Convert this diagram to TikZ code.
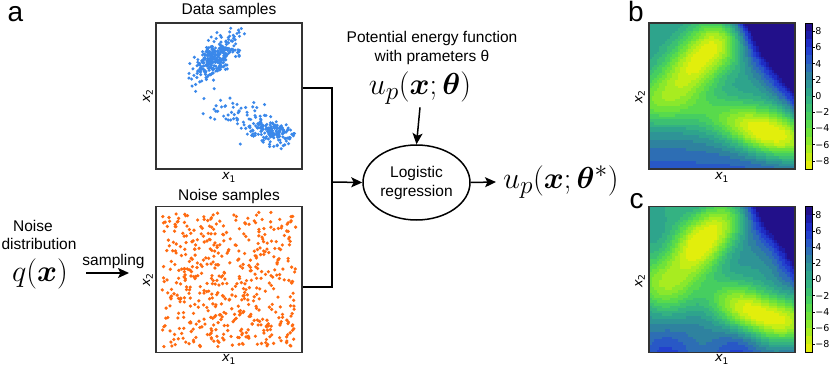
\documentclass[tikz,border=0pt]{standalone}
\usepackage{amsmath}
\usepackage{bm}
\usepackage[no-math]{fontspec}
\setmainfont{Liberation Sans}
\newfontfamily\mplfont{DejaVu Sans}
\usetikzlibrary{arrows.meta,shapes.geometric}
\definecolor{datablue}{HTML}{3A88EA}
\definecolor{noiseorange}{HTML}{FF6A10}
\definecolor{boxgray}{HTML}{333333}
% contour bands, -9 ... 9 in steps of 1
\definecolor{band0}{HTML}{E2EE0C}
\definecolor{band1}{HTML}{C6EE14}
\definecolor{band2}{HTML}{A8EC20}
\definecolor{band3}{HTML}{8AE82C}
\definecolor{band4}{HTML}{6EE23A}
\definecolor{band5}{HTML}{58DA4C}
\definecolor{band6}{HTML}{46CE60}
\definecolor{band7}{HTML}{3CC072}
\definecolor{band8}{HTML}{34B282}
\definecolor{band9}{HTML}{2EA48C}
\definecolor{band10}{HTML}{2E9496}
\definecolor{band11}{HTML}{2E829F}
\definecolor{band12}{HTML}{2D6EB4}
\definecolor{band13}{HTML}{2858C6}
\definecolor{band14}{HTML}{2240CE}
\definecolor{band15}{HTML}{1E2CC4}
\definecolor{band16}{HTML}{1C1CA8}
\definecolor{band17}{HTML}{22108A}
\newcommand{\axlab}[1]{{\mplfont\itshape x\textsubscript{\upshape #1}}}
% energy at (s,t) of the unit square; #3 = 0 for b, 1 for c
\newcommand{\calcenergy}[3]{%
  \pgfmathsetmacro\wa{(#1+#2-1.14)/0.4243}%
  \pgfmathsetmacro\wb{(#1-#2+0.40)/0.1700}%
  \pgfmathsetmacro\wone{exp(max(-15,-0.5*(\wa*\wa+\wb*\wb)))}%
  \pgfmathsetmacro\wc{(0.943*(#1-0.82)-0.33*(#2-0.23))/0.22}%
  \pgfmathsetmacro\wd{(0.33*(#1-0.82)+0.943*(#2-0.23))/0.10}%
  \pgfmathsetmacro\wtwo{exp(max(-15,-0.5*(\wc*\wc+\wd*\wd)))}%
  \pgfmathsetmacro\we{(#2-0.46+0.2*#1)/0.12}%
  \pgfmathsetmacro\wthree{exp(max(-15,-0.5*\we*\we))}%
  \pgfmathsetmacro\rim{max(0,#1+0.85*#2-1.15)}%
  \pgfmathsetmacro\uval{1+3.5*(1-#2)^3+(90-35*#3)*\rim*\rim-10*\wone-9*\wtwo-3.5*\wthree
    +#3*(1.0*sin(deg(13*#1))*cos(deg(9*#2)))}%
}
% #1 left, #2 bottom (px), #3 variant
\newcommand{\drawmap}[3]{%
  \foreach \ci in {0,...,55}{
    \foreach \cj in {0,...,55}{
      \pgfmathsetmacro\sx{(\ci+0.5)/56}
      \pgfmathsetmacro\ty{(\cj+0.5)/56}
      \calcenergy{\sx}{\ty}{#3}
      \pgfmathtruncatemacro\band{max(0,min(17,floor(\uval+9)))}
      \fill[band\band] ({#1+\ci*146/56},{#2-\cj*146/56})
        rectangle ++({146/56+0.4},{-146/56-0.4});
    }
  }}
\newcommand{\drawcbar}[2]{%
  \foreach \k in {0,...,17}
    \fill[band\k] (#1,{#2-\k*146/18}) rectangle ++(7,{-146/18-0.2});
  \draw[line width=0.8pt] (#1,#2) rectangle ++(7,-146);
  \foreach \v in {-8,-6,...,8}{
    \pgfmathtruncatemacro\av{abs(\v)}
    \draw[line width=0.6pt] ({#1+7},{#2-(\v+9)*146/18}) -- ++(2.5,0)
      node[anchor=west, xshift=0.5pt, ticklabel] {\ifnum\v<0 −\fi\av};
  }}

\begin{document}
\begin{tikzpicture}[
  x=1pt, y=-1pt,
  every node/.style={font=\fontsize{15.5}{18}\selectfont, inner sep=0pt},
  frame/.style={draw=boxgray, line width=1.3pt, minimum size=146pt},
  wire/.style={line width=1.5pt},
  arrow/.style={wire, -{Stealth[length=11pt,width=10pt,inset=2.5pt]}},
  bigmath/.style={font=\Huge, scale=1.22},
  panel/.style={font=\fontsize{28}{30}\selectfont},
  axlabel/.style={font=\fontsize{13}{15}\selectfont},
  ticklabel/.style={font=\mplfont\fontsize{9.5}{11}\selectfont}
]
  \useasboundingbox (0,0) rectangle (830,366);
  \pgfmathsetseed{4213}

  % ---- panel a: sample boxes ----
  \node (titledata) at (229,10) {Data samples};
  \node (titlenoise) at (229,196) {Noise samples};

  \foreach \n in {1,...,300}{
    \pgfmathsetmacro\ra{sqrt(-2*ln(0.002+0.996*rnd))}
    \pgfmathsetmacro\rb{360*rnd}
    \pgfmathsetmacro\za{\ra*cos(\rb)}
    \pgfmathsetmacro\zb{\ra*sin(\rb)}
    \fill[datablue] ({156+146*(0.40+0.068*\za-0.033*\zb)},{169-146*(0.76+0.072*\za+0.031*\zb)}) circle (1.7pt);
  }
  \foreach \n in {1,...,150}{
    \pgfmathsetmacro\ra{sqrt(-2*ln(0.002+0.996*rnd))}
    \pgfmathsetmacro\rb{360*rnd}
    \pgfmathsetmacro\za{\ra*cos(\rb)}
    \pgfmathsetmacro\zb{\ra*sin(\rb)}
    \fill[datablue] ({156+146*(0.79+0.07*\za)},{169-146*(0.25-0.012*\za+0.037*\zb)}) circle (1.7pt);
  }
  \foreach \n in {1,...,70}{
    \pgfmathsetmacro\ra{sqrt(-2*ln(0.002+0.996*rnd))}
    \pgfmathsetmacro\rb{360*rnd}
    \pgfmathsetmacro\za{\ra*cos(\rb)}
    \pgfmathsetmacro\zb{\ra*sin(\rb)}
    \pgfmathsetmacro\uu{rnd}
    \fill[datablue] ({156+146*(0.42+0.34*\uu+0.06*\za)},{169-146*(0.44-0.14*\uu+0.06*\zb)}) circle (1.7pt);
  }
  \foreach \n in {1,...,520}
    \fill[noiseorange] ({156+146*(0.04+0.92*rnd)},{352.5-146*(0.04+0.92*rnd)}) circle (1.8pt);

  \node[frame] (databox) at (229,96) {};
  \node[frame] (noisebox) at (229,279.5) {};
  \node[axlabel] (dx1) at (229,177.5) {\axlab{1}};
  \node[axlabel, rotate=90] (dx2) at (148,96) {\axlab{2}};
  \node[axlabel] (nx1) at (229,359.5) {\axlab{1}};
  \node[axlabel, rotate=90] (nx2) at (148,280) {\axlab{2}};

  % ---- noise distribution ----
  \node (noiselbl) at (33,226) {Noise};
  \node (distlbl) at (39,244) {distribution};
  \node[bigmath] (qx) at (40,274) {$q(\bm{x})$};
  \coordinate (samplestart) at (86,273);
  \coordinate (sampleend) at (129,273);
  \draw[arrow] (samplestart) -- (sampleend);
  \node (samplelbl) at (113.5,261) {sampling};

  % ---- logistic regression ----
  \node[draw, ellipse, line width=1.5pt, minimum width=107pt, minimum height=75pt,
        align=center] (logreg) at (416.5,182.5) {Logistic\\[1pt]regression};
  \node (energytxt) at (432,38) {Potential energy function};
  \node (paramtxt) at (432,57) {with prameters θ};
  \node[bigmath] (energy) at (420,88) {$u_p(\bm{x};\bm{\theta})$};
  \node[bigmath, anchor=west] (ustar) at (503,182) {$u_p(\bm{x};\bm{\theta}^*)$};

  \coordinate (merge) at (332,182);
  \draw[wire] ([yshift=8pt]databox.east) -| (merge);
  \draw[wire] ([yshift=-7.5pt]noisebox.east) -| (merge);
  \draw[arrow] (merge) -- (logreg.west);
  \draw[arrow] ([yshift=-3pt]energy.south) -- (logreg.north);
  \draw[arrow] (logreg.east) -- ([xshift=-7pt]ustar.west);

  % ---- panels b and c ----
  \drawmap{649}{169}{0}
  \drawmap{649}{352.5}{1}
  \node[frame] (mapb) at (722,96) {};
  \node[frame] (mapc) at (722,279.5) {};
  \drawcbar{805}{169}
  \drawcbar{805}{352.5}
  \node[axlabel] (bx1) at (722,177.5) {\axlab{1}};
  \node[axlabel, rotate=90] (bx2) at (640,97) {\axlab{2}};
  \node[axlabel] (cx1) at (722,359.5) {\axlab{1}};
  \node[axlabel, rotate=90] (cx2) at (640,281) {\axlab{2}};

  % ---- panel letters ----
  \node[panel] (panela) at (15.5,14.5) {a};
  \node[panel] (panelb) at (636,11.5) {b};
  \node[panel] (panelc) at (636.5,201.5) {c};
\end{tikzpicture}
\end{document}
